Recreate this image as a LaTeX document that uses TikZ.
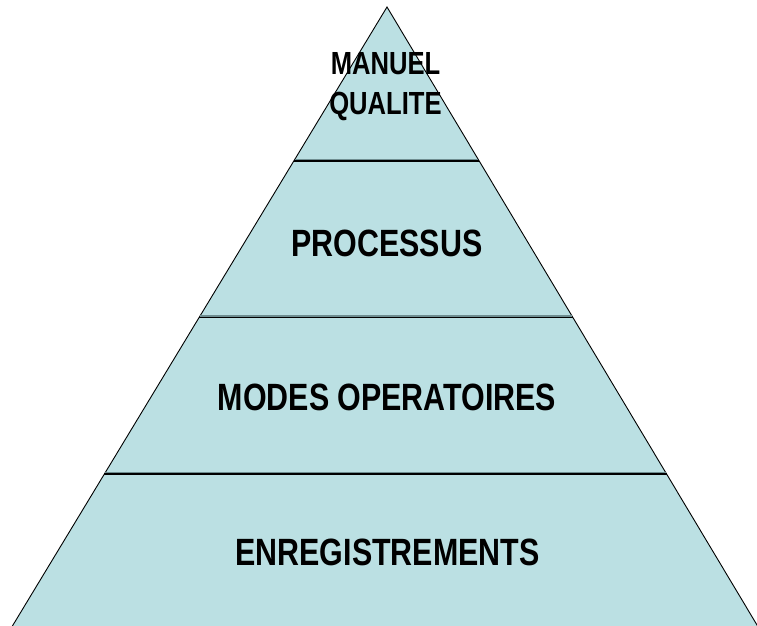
\documentclass[tikz,border=0pt]{standalone}
\usepackage{fontspec}
\newfontfamily\lab[FakeStretch=0.80]{Liberation Sans}
\usetikzlibrary{calc}
\definecolor{pyrfill}{HTML}{BBE0E3}
\definecolor{shade}{HTML}{6F8E91}
\tikzset{
  lbl/.style={inner sep=0pt, text=black, font=\lab\bfseries\fontsize{38}{40}\selectfont},
  toplbl/.style={inner sep=0pt, text=black, align=center, font=\lab\bfseries\fontsize{32}{40}\selectfont},
  outline/.style={draw=black, line width=0.9pt, fill=pyrfill},
  divshade/.style={draw=shade, line width=1.2pt},
  divline/.style={draw=black, line width=1.6pt}
}
\begin{document}
\begin{tikzpicture}[x=1pt,y=-1pt]
\useasboundingbox (0,0) rectangle (757,625);
\clip (0,0) rectangle (757,625);
\coordinate (apex) at (387,7);
\coordinate (bl) at (13,625);
\coordinate (br) at (757,625);
\coordinate (blx) at ($(apex)!1.02!(bl)$);
\coordinate (brx) at ($(apex)!1.02!(br)$);
\path[outline] (apex) -- (blx) -- (brx) -- cycle;
% dividers
\foreach \f/\n in {0.2492/1, 0.5024/2, 0.7557/3}{
  \coordinate (l\n) at ($(apex)!\f!(bl)$);
  \coordinate (r\n) at ($(apex)!\f!(br)$);
}
\foreach \n in {1,2,3}{
  \draw[divshade] ($(l\n)+(0.9,-1.4)$) -- ($(r\n)+(-0.9,-1.4)$);
  \draw[divline] (l\n) -- (r\n);
}
\node[toplbl] (mq) at (385.5,87) {MANUEL\\QUALITE};
\node[lbl] (proc) at (387,243) {PROCESSUS};
\node[lbl] (modes) at (387,397) {MODES OPERATOIRES};
\node[lbl] (enr) at (387.5,552) {ENREGISTREMENTS};
\end{tikzpicture}
\end{document}
